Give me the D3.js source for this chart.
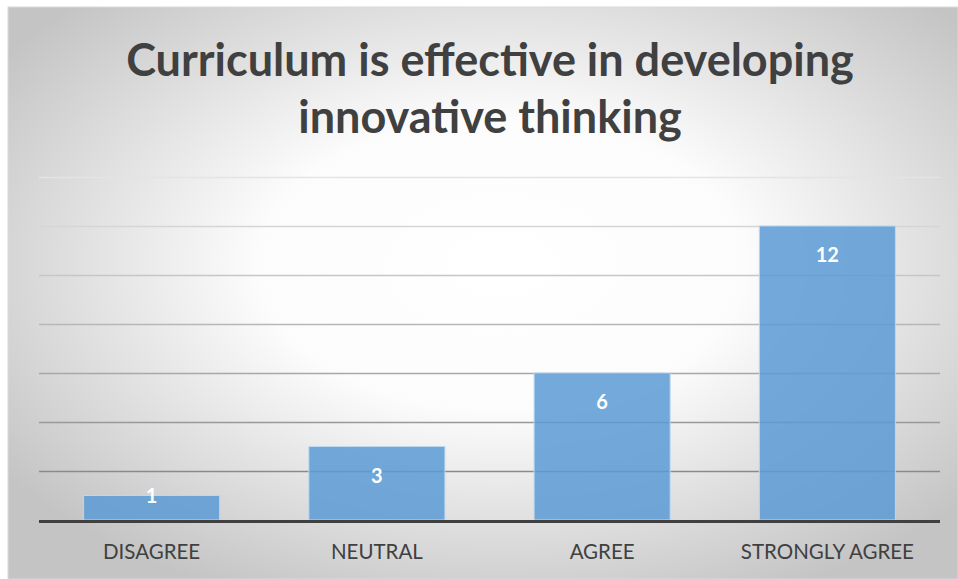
<!DOCTYPE html>
<html><head><meta charset="utf-8">
<script src="https://cdn.jsdelivr.net/npm/d3@7"></script>
<style>html,body{margin:0;padding:0;background:#fff;}svg{display:block;}</style>
</head><body>
<svg id="c" width="958" height="579"></svg>
<script>
const titleLines = ["Curriculum is effective in developing", "innovative thinking"];
const categories = ["DISAGREE", "NEUTRAL", "AGREE", "STRONGLY AGREE"];
const values = [1, 3, 6, 12];
const yTicks = [0, 2, 4, 6, 8, 10, 12, 14];

const svg = d3.select("#c");
const W = 958, H = 579;
const frame = {x: 8, y: 7, w: W - 8, h: H - 7};
const m = {left: 39, right: 940, top: 177, bottom: 520};

const defs = svg.append("defs");
const rg = defs.append("radialGradient").attr("id", "bg")
  .attr("cx", "0.52").attr("cy", "0.45").attr("r", "0.64").attr("fx", "0.52").attr("fy", "0.45");
rg.append("stop").attr("offset", "0").attr("stop-color", "#ffffff");
rg.append("stop").attr("offset", "0.4").attr("stop-color", "#fcfcfc");
rg.append("stop").attr("offset", "1").attr("stop-color", "#c4c4c4");

svg.append("rect").attr("x", frame.x).attr("y", frame.y).attr("width", frame.w).attr("height", frame.h)
  .attr("fill", "url(#bg)").attr("stroke", "#d9d9d9").attr("stroke-width", 1);

const x = d3.scaleBand().domain(categories).range([m.left, m.right]).paddingInner(0.396).paddingOuter(0.198);
const y = d3.scaleLinear().domain([0, 14]).range([m.bottom, m.top]);

// gridlines
const gridColor = d3.scaleLinear().domain([14, 2]).range(["#e4e4e4", "#8a8a8a"]);
svg.append("g").selectAll("line").data(yTicks.filter(d => d > 0)).join("line")
  .attr("x1", m.left).attr("x2", m.right)
  .attr("y1", d => y(d) + 0.5).attr("y2", d => y(d) + 0.5)
  .attr("stroke", d => gridColor(d)).attr("stroke-width", 1.3);

// bars
svg.append("g").selectAll("rect").data(values).join("rect")
  .attr("x", (d, i) => x(categories[i]))
  .attr("width", x.bandwidth())
  .attr("y", d => y(d))
  .attr("height", d => y(0) - y(d))
  .attr("fill", "#5b9bd5").attr("fill-opacity", 0.85)
  .attr("stroke", "#bdd7ee").attr("stroke-width", 1);

// baseline axis
const xAxis = d3.axisBottom(x).tickSize(0).tickPadding(24);
const ax = svg.append("g").attr("transform", `translate(0,${y(0)})`).call(xAxis);
ax.select(".domain").attr("stroke", "#404040").attr("stroke-width", 3).attr("d", `M${m.left},1.5H${m.right}`);
ax.selectAll("text").attr("fill", "#404040").attr("font-family", "Lato, 'Open Sans', sans-serif")
  .attr("font-size", 20.5).attr("dy", "0.71em");

// value labels
svg.append("g").selectAll("text").data(values).join("text")
  .attr("x", (d, i) => x(categories[i]) + x.bandwidth() / 2)
  .attr("y", d => (y(0) - y(d) >= 58 ? y(d) + 29 : y(d)))
  .attr("dy", "0.35em")
  .attr("text-anchor", "middle").attr("fill", "#ffffff")
  .attr("font-family", "Lato, 'Open Sans', sans-serif").attr("font-weight", "bold").attr("font-size", 20)
  .text(d => d);

// title
svg.append("g").selectAll("text").data(titleLines).join("text")
  .attr("x", 490).attr("y", (d, i) => 60 + i * 57).attr("dy", "0.35em")
  .attr("text-anchor", "middle").attr("fill", "#404040")
  .attr("font-family", "Lato, 'Open Sans', sans-serif").attr("font-weight", "bold").attr("font-size", 45)
  .text(d => d);
</script>
</body></html>
